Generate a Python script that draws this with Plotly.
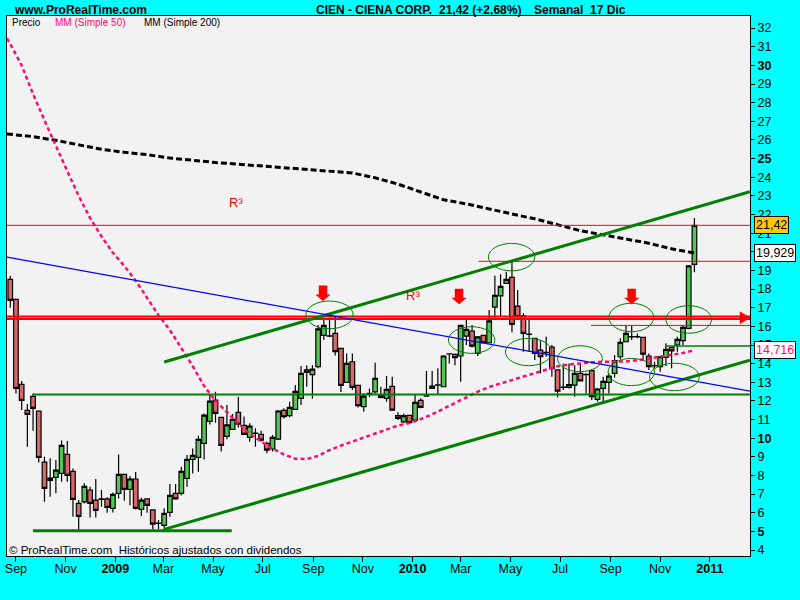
import plotly.graph_objects as go
import pandas as pd

# ---------------- data (weekly candles, CIEN) ----------------
first_week = "2008-08-25"
n_weeks = 121
opens = [18.52, 17.45, 12.89, 11.49, 12.24, 11.46, 8.72, 7.86, 7.90, 8.11,
         9.13, 8.22, 6.50, 6.58, 7.22, 6.68, 6.72, 6.74, 6.24, 7.04,
         8.06, 7.25, 7.81, 6.18, 6.74, 6.15, 5.43, 5.32, 6.02, 7.04,
         7.04, 7.84, 8.86, 8.97, 9.72, 10.90, 12.05, 11.12, 10.10, 10.47,
         11.39, 10.69, 10.04, 10.26, 10.21, 9.72, 9.42, 9.95, 11.49, 11.21,
         11.55, 12.14, 13.66, 13.41, 13.84, 15.52, 15.48, 15.62, 14.82, 12.99,
         14.10, 12.83, 11.69, 12.40, 12.49, 12.30, 12.14, 12.78, 11.21, 10.88,
         11.22, 10.97, 12.03, 12.26, 12.67, 12.85, 12.76, 14.52, 14.50, 14.41,
         15.48, 15.75, 14.55, 15.52, 15.12, 17.03, 17.63, 18.31, 18.63, 17.09,
         16.57, 15.57, 15.36, 14.73, 14.59, 14.89, 13.66, 12.73, 12.73, 12.85,
         13.48, 13.41, 13.62, 12.08, 12.67, 12.99, 13.48, 14.37, 15.18, 15.44,
         15.44, 15.41, 14.41, 13.89, 13.84, 14.34, 14.87, 15.00, 15.23, 15.89,
         19.33]
closes = [17.39, 12.67, 12.03, 11.28, 11.60, 8.97, 7.31, 7.74, 8.29, 9.62,
          8.01, 6.72, 5.81, 7.42, 6.50, 6.13, 6.74, 6.29, 6.99, 8.06,
          7.25, 7.81, 6.24, 6.68, 6.40, 5.39, 5.44, 5.97, 6.93, 6.75,
          8.22, 8.86, 9.08, 9.94, 11.24, 11.99, 11.33, 9.62, 10.71, 11.01,
          10.76, 10.21, 10.65, 10.27, 9.90, 9.36, 10.04, 11.46, 11.15, 11.65,
          12.51, 13.48, 13.53, 13.71, 15.86, 16.05, 15.49, 14.64, 12.83, 14.01,
          12.73, 11.74, 12.26, 12.41, 13.21, 12.19, 12.62, 11.51, 11.06, 11.21,
          10.83, 11.92, 11.65, 12.27, 12.80, 12.86, 14.41, 14.53, 14.32, 16.05,
          15.84, 14.94, 15.44, 15.12, 16.29, 17.66, 18.15, 18.52, 16.11, 16.52,
          15.62, 15.58, 14.55, 14.37, 14.60, 13.73, 12.53, 12.74, 12.87, 13.48,
          13.08, 13.42, 12.23, 12.64, 13.05, 13.33, 14.16, 15.14, 15.62, 15.45,
          15.45, 14.51, 13.84, 13.90, 14.37, 14.77, 14.68, 15.30, 15.95, 19.24,
          21.42]
highs = [18.70, 17.50, 13.07, 11.83, 12.40, 11.50, 9.01, 8.92, 8.83, 9.88,
         9.85, 8.38, 6.68, 7.58, 7.40, 7.81, 7.22, 6.83, 7.09, 9.13,
         8.06, 7.97, 8.18, 6.81, 6.77, 6.18, 5.61, 6.24, 7.54, 7.54,
         8.47, 9.10, 9.45, 10.13, 11.33, 12.33, 12.49, 11.12, 11.78, 11.30,
         12.23, 11.17, 10.80, 10.53, 10.40, 9.81, 10.17, 11.51, 11.60, 11.96,
         12.85, 13.87, 13.92, 13.92, 16.07, 16.46, 16.43, 16.55, 14.82, 14.55,
         14.55, 12.83, 12.40, 12.67, 14.05, 12.76, 13.33, 13.30, 11.39, 11.33,
         11.22, 12.32, 12.14, 13.60, 13.60, 13.75, 14.46, 14.53, 14.55, 16.07,
         16.34, 16.07, 15.48, 15.52, 16.88, 18.72, 18.79, 18.93, 19.47, 17.95,
         16.70, 16.34, 15.36, 15.27, 15.44, 15.00, 13.66, 14.01, 14.01, 13.92,
         14.01, 13.48, 13.66, 12.70, 13.30, 13.48, 14.46, 15.36, 16.02, 16.02,
         15.62, 15.44, 14.55, 14.10, 14.37, 15.09, 14.87, 15.44, 16.05, 19.29,
         21.81]
lows = [17.00, 12.40, 11.51, 9.54, 10.40, 8.70, 6.59, 6.86, 7.04, 7.67,
        7.67, 5.79, 5.07, 6.50, 5.75, 5.75, 6.32, 6.00, 6.02, 6.77,
        6.65, 6.40, 6.18, 5.82, 6.00, 5.11, 5.11, 5.11, 5.79, 6.70,
        6.93, 7.40, 8.10, 8.20, 8.86, 10.74, 10.83, 9.28, 9.95, 10.44,
        10.58, 10.17, 9.81, 9.54, 9.81, 9.19, 9.28, 9.90, 11.06, 11.12,
        11.51, 11.78, 12.76, 12.12, 13.75, 15.27, 15.41, 14.43, 12.48, 12.98,
        12.58, 11.65, 11.42, 12.19, 12.40, 12.14, 11.96, 11.51, 10.97, 10.80,
        10.76, 10.88, 11.60, 12.23, 12.66, 12.37, 12.76, 14.01, 13.92, 13.03,
        15.00, 14.87, 14.41, 15.09, 15.09, 16.48, 16.52, 18.31, 15.68, 16.52,
        14.64, 14.64, 14.19, 13.48, 14.37, 13.30, 12.19, 12.58, 12.67, 12.23,
        13.08, 12.40, 12.05, 11.96, 11.96, 12.40, 13.26, 14.23, 15.18, 15.27,
        15.36, 14.19, 13.66, 13.75, 13.57, 13.87, 13.75, 14.64, 14.98, 15.84,
        18.90]

# moving averages (week index, value) + value at left edge
mm50_edge = 31.45
mm50_weeks = list(range(0, 121, 2))
mm50_vals = [31.15, 30.0, 28.47, 27.05, 25.65, 24.33, 23.0, 21.81, 20.83, 19.95,
             19.25, 18.45, 17.53, 16.60, 15.80, 14.83, 13.87, 12.80, 12.0, 11.40,
             10.78, 10.25, 9.82, 9.45, 9.13, 8.90, 8.88, 9.05, 9.36, 9.60,
             9.83, 10.05, 10.25, 10.46, 10.68, 10.81, 11.02, 11.28, 11.58, 11.90,
             12.20, 12.50, 12.75, 12.93, 13.10, 13.28, 13.47, 13.68, 13.86, 13.95,
             14.02, 14.07, 14.10, 14.10, 14.12, 14.18, 14.27, 14.36, 14.46, 14.57,
             14.716]
mm200_edge = 26.32
mm200_weeks = list(range(0, 121, 4))
mm200_vals = [26.30, 26.18, 25.98, 25.72, 25.50, 25.34, 25.21, 25.03, 24.90, 24.79,
              24.70, 24.61, 24.51, 24.40, 24.31, 24.23, 23.97, 23.63, 23.21, 22.79,
              22.57, 22.28, 22.03, 21.77, 21.47, 21.13, 20.91, 20.70, 20.46, 20.16,
              19.929]

last_close = 21.42
last_mm200 = 19.929
last_mm50 = 14.716

y_ticks = list(range(4, 33))
x_tick_dates = ["2008-09-01", "2008-11-01", "2009-01-01", "2009-03-01", "2009-05-01",
                "2009-07-01", "2009-09-01", "2009-11-01", "2010-01-01", "2010-03-01",
                "2010-05-01", "2010-07-01", "2010-09-01", "2010-11-01", "2011-01-01"]
x_tick_text = ["Sep", "Nov", "<b>2009</b>", "Mar", "May", "Jul", "Sep", "Nov",
               "<b>2010</b>", "Mar", "May", "Jul", "Sep", "Nov", "<b>2011</b>"]

# analyst drawings (data coordinates)
x_start, x_end = "2008-08-21", "2011-02-19 06:00"
resistance = [16.53, 16.39]
support_h = 12.35
base_h = 5.04
upper_channel = [("2009-03-02", 14.09), (x_end, 23.22)]
lower_channel = [("2009-03-02", 5.11), (x_end, 14.19)]
blue_trend = [(x_start, 19.71), (x_end, 12.53)]
ellipses = [("2009-08-23", "2009-10-20", 15.87, 17.36),
            ("2010-02-14", "2010-04-12", 14.55, 15.98),
            ("2010-04-04", "2010-05-31", 18.98, 20.45),
            ("2010-04-25", "2010-06-21", 13.89, 15.36),
            ("2010-06-28", "2010-08-22", 13.57, 14.96),
            ("2010-08-30", "2010-10-24", 15.71, 17.24),
            ("2010-08-29", "2010-10-25", 12.82, 14.28),
            ("2010-11-08", "2011-01-03", 15.63, 17.11),
            ("2010-10-19", "2010-12-19", 12.55, 14.02)]
down_arrows = [("2009-09-13", 17.37), ("2010-02-27", 17.20), ("2010-09-27", 17.20)]
r3_labels = [("2009-05-29", 22.62), ("2010-01-02", 17.68)]

# ---------------- figure ----------------
dates = pd.date_range(first_week, periods=n_weeks, freq="7D")
FONT = "Liberation Sans, Arial, sans-serif"
GREEN = "#008000"
RED = "#FF0000"
PINK = "#FF0A6E"

fig = go.Figure()
fig.add_trace(go.Candlestick(
    x=dates, open=opens, high=highs, low=lows, close=closes,
    increasing=dict(line=dict(color="black", width=1.2), fillcolor="#50C850"),
    decreasing=dict(line=dict(color="black", width=1.2), fillcolor="#D86868"),
    whiskerwidth=0, showlegend=False, hoverinfo="skip"))

mm200_x = [pd.Timestamp(x_start)] + list(dates[mm200_weeks])
mm50_x = [pd.Timestamp(x_start)] + list(dates[mm50_weeks])
fig.add_trace(go.Scatter(x=mm200_x, y=[mm200_edge] + mm200_vals, mode="lines",
                         line=dict(color="black", width=3, dash="6px,3px"),
                         showlegend=False, hoverinfo="skip"))
fig.add_trace(go.Scatter(x=mm50_x, y=[mm50_edge] + mm50_vals, mode="lines",
                         line=dict(color=PINK, width=2.5, dash="4px,3px"),
                         showlegend=False, hoverinfo="skip"))

shapes = []
def hline(y, x0, x1, color, width):
    shapes.append(dict(type="line", xref="x", yref="y", x0=x0, x1=x1, y0=y, y1=y,
                       line=dict(color=color, width=width)))

hline(last_close, x_start, x_end, RED, 1)
hline(19.49, "2010-03-23", x_end, RED, 1)
hline(16.05, "2010-08-08", x_end, RED, 1)
for r in resistance:
    hline(r, x_start, x_end, RED, 2)
hline(support_h, "2008-09-22", x_end, GREEN, 2)
hline(base_h, "2008-09-22", "2009-05-24", GREEN, 3)
hline(14.94, "2010-11-07", x_end, GREEN, 1.5)

for (p0, p1), w, c in [(upper_channel, 3, GREEN), (lower_channel, 3, GREEN),
                        (blue_trend, 1.3, "#0000FF")]:
    shapes.append(dict(type="line", xref="x", yref="y", x0=p0[0], y0=p0[1],
                       x1=p1[0], y1=p1[1], line=dict(color=c, width=w)))

for x0, x1, y0, y1 in ellipses:
    shapes.append(dict(type="circle", xref="x", yref="y", x0=x0, x1=x1, y0=y0, y1=y1,
                       line=dict(color=GREEN, width=1)))

for xa, ya in down_arrows:
    shapes.append(dict(type="path", xref="x", yref="y", xsizemode="pixel",
                       ysizemode="pixel", xanchor=xa, yanchor=ya,
                       path="M-4,15 L4,15 L4,6 L7,6 L0,0 L-7,6 L-4,6 Z",
                       fillcolor=RED, line=dict(color=RED, width=0.5)))
shapes.append(dict(type="path", xref="x", yref="y", xsizemode="pixel",
                   ysizemode="pixel", xanchor=x_end,
                   yanchor=(resistance[0] + resistance[1]) / 2,
                   path="M-10,6 L0,0 L-10,-6 Z",
                   fillcolor=RED, line=dict(color=RED, width=0.5)))

annotations = []
for xr, yr in r3_labels:
    annotations.append(dict(x=xr, y=yr, xref="x", yref="y", text="R³", showarrow=False,
                            font=dict(family=FONT, size=13, color=RED)))

def paper_x(px):
    return (px - 5) / 745.0

def paper_y(py):
    return (556 - py) / 540.0

def label(px, py, text, size, color="black"):
    annotations.append(dict(x=paper_x(px), y=paper_y(py), xref="paper", yref="paper",
                            xanchor="left", yanchor="middle", showarrow=False, text=text,
                            font=dict(family=FONT, size=size, color=color)))

label(10, 10, "<b>www.ProRealTime.com</b>", 12)
label(313, 10, "<b>CIEN - CIENA CORP.</b>", 12)
label(436, 10, "<b>21,42 (+2,68%)</b>", 12)
label(531, 10, "<b>Semanal&nbsp;&nbsp;17 Dic</b>", 12)
label(8, 23, "Precio", 10)
label(51, 23, "MM (Simple 50)", 10, PINK)
label(140, 23, "MM (Simple 200)", 10)
label(5, 550, "© ProRealTime.com  Históricos ajustados con dividendos", 11.5)

for val, txt, bg, fc in [(last_close, "21,42", "#FFC800", "black"),
                         (last_mm200, "19,929", "white", "black"),
                         (last_mm50, "14,716", "white", PINK)]:
    annotations.append(dict(x=1, y=val, xref="paper", yref="y", xanchor="left",
                            yanchor="middle", xshift=4, showarrow=False, text=txt,
                            bgcolor=bg, bordercolor="black", borderwidth=1, borderpad=1,
                            font=dict(family=FONT, size=12.5, color=fc)))

y_text = ["<b>%d</b>" % v if v % 5 == 0 else str(v) for v in y_ticks]

fig.update_layout(
    width=800, height=600,
    margin=dict(l=5, r=50, t=16, b=44),
    paper_bgcolor="#00FFFF", plot_bgcolor="#F2F2F2",
    boxgap=0.15, boxgroupgap=0.05,
    shapes=shapes, annotations=annotations, showlegend=False,
    xaxis=dict(type="date", range=[x_start, x_end], rangeslider=dict(visible=False),
               tickvals=x_tick_dates, ticktext=x_tick_text, ticks="outside", ticklen=5,
               tickcolor="black", showgrid=False, zeroline=False, showline=True,
               linecolor="black", linewidth=1, mirror=True, ticklabelstandoff=-4,
               tickfont=dict(family=FONT, size=12.5, color="black")),
    yaxis=dict(side="right", range=[3.68, 32.65], tickvals=y_ticks, ticktext=y_text,
               ticks="outside", ticklen=4, tickcolor="black", showgrid=False,
               zeroline=False, showline=True, linecolor="black", linewidth=1, mirror=True,
               tickfont=dict(family=FONT, size=12.5, color="black")),
)

fig.write_html("out.html",
               config={"displayModeBar": False},
               post_script="document.body.style.margin='0px';"
                           "document.body.style.padding='0px';"
                           "document.body.style.backgroundColor='#00FFFF';")
